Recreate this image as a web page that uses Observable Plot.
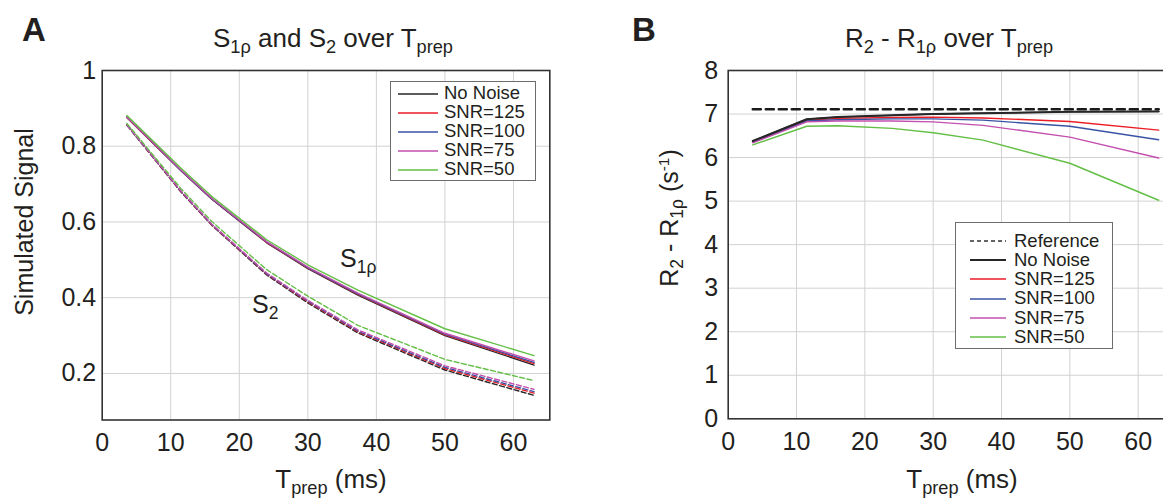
<!DOCTYPE html>
<html><head><meta charset="utf-8">
<script src="https://cdn.jsdelivr.net/npm/d3@7"></script>
<script src="https://cdn.jsdelivr.net/npm/@observablehq/plot@0.6"></script>
<style>
body{margin:0;background:#fff;overflow:hidden}
#root{position:relative;width:1163px;height:498px;overflow:hidden;font-family:"Liberation Sans",Arial,sans-serif;color:#231f20}
.t{position:absolute;white-space:nowrap;line-height:1}
.t sub{font-size:0.7em;vertical-align:-0.32em;line-height:0}
.t sup{font-size:0.62em;vertical-align:0.55em;line-height:0}
.panel{position:absolute;top:0}
.panel svg{max-width:none !important}
.legend{position:absolute;background:#fff;border:1px solid #6d6d6d;box-sizing:border-box}
.lrow{position:absolute;left:0;height:20px;display:flex;align-items:center;white-space:nowrap;line-height:1}
</style></head><body><div id="root"></div>
<script>
// ---------- data ----------
const tprep = [3.6, 11.5, 16, 24, 30, 37.3, 50, 63];
const seriesNames = ["No Noise", "SNR=125", "SNR=100", "SNR=75", "SNR=50"];
const seriesColors = ["#262626", "#ec1c24", "#3953a4", "#c34fae", "#63bf45"];

// Panel A: S1rho (solid)
const s1rhoNoNoise = [0.876, 0.735, 0.660, 0.545, 0.477, 0.407, 0.300, 0.222];
const s1rhoSnr125  = [0.876, 0.736, 0.661, 0.546, 0.478, 0.409, 0.302, 0.226];
const s1rhoSnr100  = [0.877, 0.736, 0.661, 0.547, 0.479, 0.410, 0.304, 0.229];
const s1rhoSnr75   = [0.877, 0.737, 0.662, 0.548, 0.481, 0.412, 0.306, 0.233];
const s1rhoSnr50   = [0.881, 0.742, 0.667, 0.553, 0.487, 0.420, 0.318, 0.247];
// Panel A: S2 (dashed)
const s2NoNoise = [0.856, 0.679, 0.591, 0.460, 0.386, 0.307, 0.209, 0.142];
const s2Snr125  = [0.856, 0.680, 0.592, 0.462, 0.389, 0.310, 0.213, 0.148];
const s2Snr100  = [0.856, 0.681, 0.593, 0.463, 0.391, 0.312, 0.216, 0.152];
const s2Snr75   = [0.857, 0.682, 0.594, 0.465, 0.393, 0.315, 0.220, 0.158];
const s2Snr50   = [0.860, 0.688, 0.601, 0.474, 0.404, 0.327, 0.237, 0.181];

// Panel B: R2 - R1rho (s^-1)
const referenceB = [7.11, 7.11, 7.11, 7.11, 7.11, 7.11, 7.11, 7.11];
const rdNoNoise = [6.38, 6.88, 6.93, 6.97, 7.00, 7.02, 7.05, 7.06];
const rdSnr125  = [6.36, 6.85, 6.90, 6.92, 6.93, 6.91, 6.83, 6.63];
const rdSnr100  = [6.35, 6.84, 6.87, 6.89, 6.89, 6.86, 6.72, 6.41];
const rdSnr75   = [6.34, 6.82, 6.84, 6.84, 6.82, 6.74, 6.47, 5.99];
const rdSnr50   = [6.29, 6.72, 6.73, 6.67, 6.57, 6.40, 5.87, 5.02];

const xTicks = [0, 10, 20, 30, 40, 50, 60];
const yTicksA = [0.2, 0.4, 0.6, 0.8, 1];
const yTicksB = [0, 1, 2, 3, 4, 5, 6, 7, 8];

// ---------- build tables ----------
const s1rho = [s1rhoNoNoise, s1rhoSnr125, s1rhoSnr100, s1rhoSnr75, s1rhoSnr50];
const s2 = [s2NoNoise, s2Snr125, s2Snr100, s2Snr75, s2Snr50];
const rd = [rdNoNoise, rdSnr125, rdSnr100, rdSnr75, rdSnr50];
const rowsS1 = [], rowsS2 = [], rowsB = [];
seriesNames.forEach((name, i) => tprep.forEach((t, j) => {
  rowsS1.push({t, v: s1rho[i][j], series: name});
  rowsS2.push({t, v: s2[i][j], series: name});
  rowsB.push({t, v: rd[i][j], series: name});
}));
const rowsRef = tprep.map((t, j) => ({t, v: referenceB[j]}));

const root = document.getElementById("root");
const font = '"Liberation Sans", Arial, sans-serif';
const gridStyle = {stroke: "#d2d2d2", strokeOpacity: 1, strokeWidth: 1};

// ---------- Panel A ----------
const plotA = Plot.plot({
  width: 560, height: 498,
  marginLeft: 101.7, marginRight: 10.7, marginTop: 70, marginBottom: 78.5,
  x: {domain: [0, 65.3], label: null},
  y: {domain: [0.077, 1], label: null},
  color: {domain: seriesNames, range: seriesColors},
  style: {fontFamily: font, fontSize: "25px", color: "#231f20", background: "transparent"},
  marks: [
    Plot.gridX(xTicks.slice(1), gridStyle),
    Plot.gridY(yTicksA.slice(0, 4), gridStyle),
    Plot.line(rowsS2, {x: "t", y: "v", z: "series", stroke: "series", strokeWidth: 1.4, strokeDasharray: "5,2.5"}),
    Plot.line(rowsS1, {x: "t", y: "v", z: "series", stroke: "series", strokeWidth: 1.4}),
    Plot.frame({stroke: "#333", strokeWidth: 1.6}),
    Plot.axisX(xTicks, {tickSize: 0, tickPadding: 13, fontSize: 25}),
    Plot.axisY(yTicksA, {tickSize: 0, tickPadding: 6, fontSize: 25, tickFormat: d => String(d)})
  ]
});
plotA.style.maxWidth = "none";
const wa = document.createElement("div"); wa.className = "panel"; wa.style.left = "0px"; wa.style.width = "560px";
wa.appendChild(plotA); root.appendChild(wa);

// ---------- Panel B ----------
const plotB = Plot.plot({
  width: 620, height: 498,
  marginLeft: 127.7, marginRight: 14, marginTop: 70, marginBottom: 79.7,
  x: {domain: [0, 70], label: null},
  y: {domain: [0, 8], label: null},
  color: {domain: seriesNames, range: seriesColors},
  style: {fontFamily: font, fontSize: "25px", color: "#231f20", background: "transparent"},
  marks: [
    Plot.gridX(xTicks.slice(1), gridStyle),
    Plot.gridY(yTicksB.slice(1, 8), gridStyle),
    Plot.line(rowsB, {x: "t", y: "v", z: "series", stroke: "series", strokeWidth: 1.4}),
    Plot.line(rowsB.filter(d => d.series === "No Noise"), {x: "t", y: "v", stroke: "#262626", strokeWidth: 2}),
    Plot.line(rowsRef, {x: "t", y: "v", stroke: "#1a1a1a", strokeWidth: 2.6, strokeDasharray: "8,5"}),
    Plot.frame({stroke: "#333", strokeWidth: 1.6}),
    Plot.axisX(xTicks, {tickSize: 0, tickPadding: 13, fontSize: 25}),
    Plot.axisY(yTicksB, {tickSize: 0, tickPadding: 10, fontSize: 25})
  ]
});
plotB.style.maxWidth = "none";
const wb = document.createElement("div"); wb.className = "panel"; wb.style.left = "600px"; wb.style.width = "620px";
wb.appendChild(plotB); root.appendChild(wb);

// ---------- text helpers ----------
function text(html, x, baseline, size, opts = {}) {
  const d = document.createElement("div");
  d.className = "t";
  d.innerHTML = html;
  d.style.fontSize = size + "px";
  if (opts.bold) d.style.fontWeight = "bold";
  d.style.top = (baseline - 0.8465 * size) + "px";
  d.style.left = x + "px";
  if (opts.center) d.style.transform = "translateX(-50%)";
  root.appendChild(d);
  return d;
}
function vtext(html, cx, cy, size) {
  const d = document.createElement("div");
  d.className = "t";
  d.innerHTML = html;
  d.style.fontSize = size + "px";
  d.style.left = cx + "px";
  d.style.top = cy + "px";
  d.style.transform = "translate(-50%,-50%) rotate(-90deg)";
  root.appendChild(d);
}

text("A", 22, 41, 33, {bold: true});
text("B", 632, 41, 33, {bold: true});
text("S<sub>1ρ</sub> and S<sub>2</sub> over T<sub>prep</sub>", 333, 47, 26, {center: true});
text("R<sub>2</sub> - R<sub>1ρ</sub> over T<sub>prep</sub>", 949, 47, 26, {center: true});
text("T<sub>prep</sub> (ms)", 331, 488, 26, {center: true});
text("T<sub>prep</sub> (ms)", 962, 488, 26, {center: true});
vtext("Simulated Signal", 24, 222, 25);
vtext("R<sub>2</sub> - R<sub>1ρ</sub> (s<sup>-1</sup>)", 669, 218, 25);
text("S<sub>1ρ</sub>", 340, 267, 25);
text("S<sub>2</sub>", 252, 313, 25);

// ---------- legends ----------
function legend(left, top, w, h, entries, lineX1, lineX2, textX, rowTop, rowStep, fontSize) {
  const box = document.createElement("div");
  box.className = "legend";
  Object.assign(box.style, {left: left + "px", top: top + "px", width: w + "px", height: h + "px"});
  entries.forEach((e, i) => {
    const r = document.createElement("div");
    r.className = "lrow";
    r.style.top = (rowTop + i * rowStep - 10) + "px";
    r.style.width = w + "px";
    const ns = "http://www.w3.org/2000/svg";
    const s = document.createElementNS(ns, "svg");
    s.setAttribute("width", textX); s.setAttribute("height", 20);
    s.style.flex = "none";
    const l = document.createElementNS(ns, "line");
    l.setAttribute("x1", lineX1); l.setAttribute("x2", lineX2);
    l.setAttribute("y1", 10); l.setAttribute("y2", 10);
    l.setAttribute("stroke", e.color); l.setAttribute("stroke-width", e.width || 1.4);
    if (e.dash) l.setAttribute("stroke-dasharray", e.dash);
    s.appendChild(l);
    r.appendChild(s);
    const sp = document.createElement("span");
    sp.textContent = e.name;
    sp.style.fontSize = fontSize + "px";
    r.appendChild(sp);
    box.appendChild(r);
  });
  root.appendChild(box);
}
legend(390, 81, 146, 100,
  seriesNames.map((n, i) => ({name: n, color: seriesColors[i]})),
  7, 47, 53, 11.5, 19, 18.5);
legend(955, 222, 158, 127,
  [{name: "Reference", color: "#333", dash: "4,3", width: 1.4}]
    .concat(seriesNames.map((n, i) => ({name: n, color: seriesColors[i], width: i === 0 ? 2 : 1.4}))),
  14, 50, 58, 18, 19.2, 18.5);
</script></body></html>
